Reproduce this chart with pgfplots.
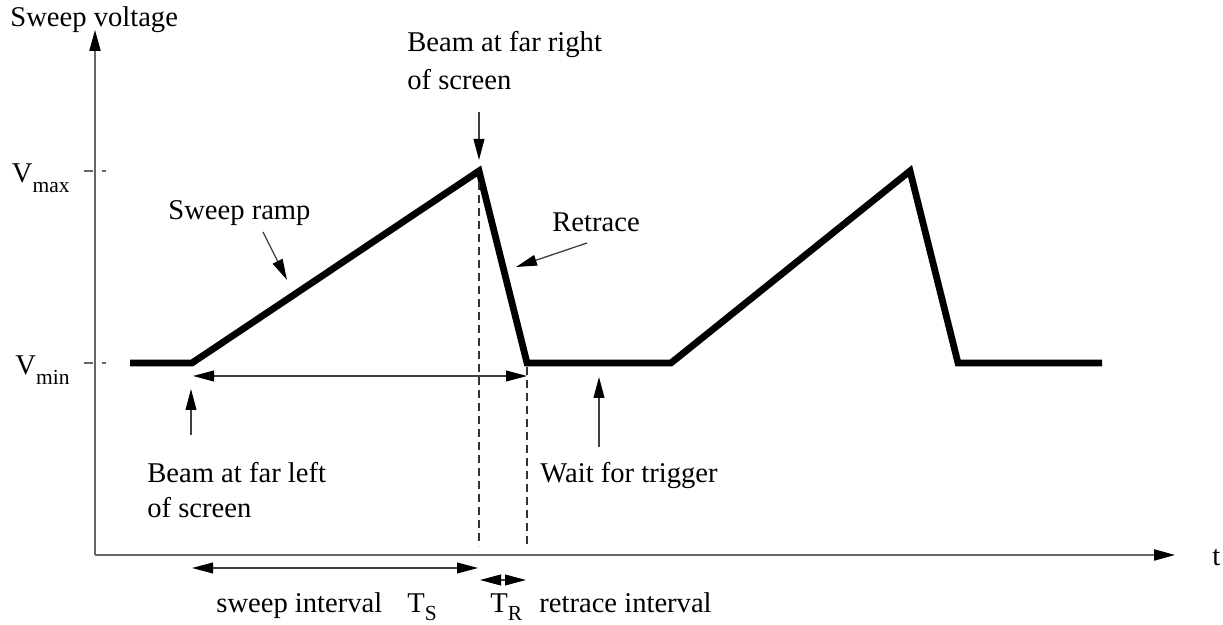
\documentclass[border=0pt]{standalone}
\usepackage{fontspec}
\setmainfont{Liberation Serif}
\usepackage{pgfplots}
\pgfplotsset{compat=1.18}
\usetikzlibrary{arrows.meta}
\newcommand\sub[1]{\raisebox{-5pt}{\fontsize{10.75}{12}\selectfont #1}}
\newcommand\subb[1]{\raisebox{-3.6pt}{\fontsize{10.75}{12}\selectfont #1}}
\begin{document}
\fontsize{14.3}{17}\selectfont
\begin{tikzpicture}[
  lbl/.style={anchor=base west, inner sep=0pt, font=\fontsize{14.3}{17}\selectfont},
  ann/.style={draw=black!75, line width=0.65pt, -{Triangle[length=10.5pt,width=5.4pt,color=black]}},
  dbl/.style={draw=black!75, line width=0.65pt, {Triangle[length=10.5pt,width=5.4pt,color=black]}-{Triangle[length=10.5pt,width=5.4pt,color=black]}},
  vdash/.style={draw=black!80, line width=0.55pt, dash pattern=on 4pt off 2.5pt},
]
\begin{axis}[
  x=0.5pt, y=0.5pt,
  xmin=95, xmax=1175, ymin=70, ymax=595,
  axis lines=left,
  axis line style={draw=black!60, line width=0.75pt, -{Triangle[length=10.5pt,width=5.6pt,color=black]}},
  xtick=\empty,
  ytick={262,454},
  yticklabels={,},
  tick align=center,
  major tick length=11pt,
  ytick style={draw=black!60, line width=0.6pt, dash pattern=on 4.5pt off 4.5pt},
  clip=false,
]
\coordinate (BL) at (axis cs:0,0);
\coordinate (TR) at (axis cs:1223,625);

% sweep waveform
\addplot[black, line width=3.4pt, line join=miter, line cap=butt] coordinates {
  (130,262) (192,262) (479,454) (527,262) (671,262) (910,454) (958,262) (1102,262)
};

% dashed guides
\draw[vdash] (axis cs:479,443) -- (axis cs:479,79);
\draw[vdash] (axis cs:527,258) -- (axis cs:527,79);

% arrows
\draw[ann] (axis cs:263,393) -- (axis cs:287,345);
\draw[ann] (axis cs:587,382) -- (axis cs:516,358);
\draw[ann] (axis cs:479,513) -- (axis cs:479,465);
\draw[dbl] (axis cs:193,249) -- (axis cs:527,249);
\draw[ann] (axis cs:191,190) -- (axis cs:191,236);
\draw[ann] (axis cs:599,178) -- (axis cs:599,248);
\draw[dbl] (axis cs:192,57) -- (axis cs:478,57);
\draw[dbl] (axis cs:480,45) -- (axis cs:526,45);

% labels
\node[lbl] at (axis cs:10,598) {Sweep voltage};
\node[lbl] at (axis cs:407,573) {Beam at far right};
\node[lbl] at (axis cs:407,535) {of screen};
\node[lbl] at (axis cs:168,405) {Sweep ramp};
\node[lbl] at (axis cs:552,393) {Retrace};
\node[lbl] at (axis cs:147,142) {Beam at far left};
\node[lbl] at (axis cs:147,107) {of screen};
\node[lbl] at (axis cs:540,142) {Wait for trigger};
\node[anchor=base east, inner sep=0pt] at (axis cs:70,442) {V\sub{max}};
\node[anchor=base east, inner sep=0pt] at (axis cs:70,250) {V\sub{min}};
\node[lbl] at (axis cs:1212,59) {t};
\node[lbl] at (axis cs:216,12) {sweep interval};
\node[lbl] at (axis cs:407,12) {T\subb{S}};
\node[lbl] at (axis cs:490,12) {T\subb{R}};
\node[lbl] at (axis cs:539,12) {retrace interval};
\end{axis}
\pgfresetboundingbox
\useasboundingbox (BL) rectangle (TR);
\end{tikzpicture}
\end{document}
